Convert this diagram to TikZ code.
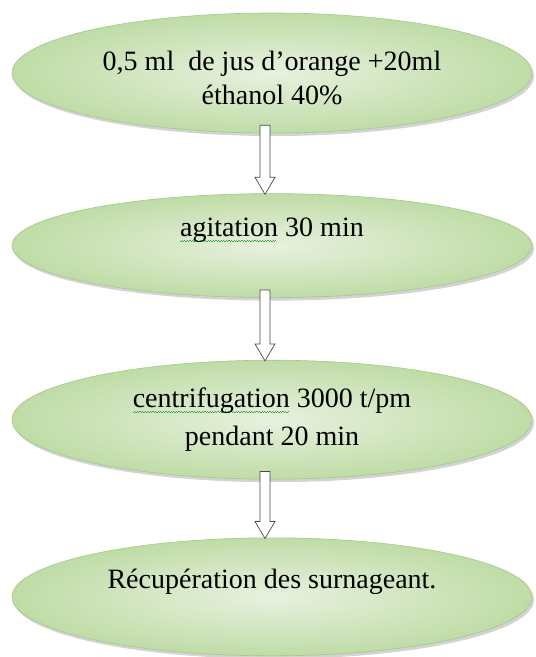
\documentclass[tikz,border=0pt]{standalone}
\usepackage{fontspec}
\setmainfont{Liberation Serif}
\usepackage{xcolor}
\usepackage{tikz}
\usetikzlibrary{positioning,calc,shapes.geometric,shadows}
\definecolor{cFillIn}{HTML}{E8F1DF}
\definecolor{cFillOut}{HTML}{BFDCA6}
\definecolor{cEdge}{HTML}{A3C98A}
\definecolor{cWave}{HTML}{3FA34D}
\definecolor{cArrow}{HTML}{4A4A4A}
\newsavebox\spellbox
\newcommand\spellmark[1]{\sbox\spellbox{#1}%
  \rlap{\raisebox{-5pt}{\color{cWave}\hbox to\wd\spellbox{\leaders\hbox to 2.6pt{\rule{1.3pt}{0.9pt}\rule[0.9pt]{1.3pt}{0.9pt}}\hfill}}}#1}
\tikzset{
  stepbox/.style={ellipse, draw=cEdge, line width=0.6pt, inner sep=0pt,
                  minimum width=520pt, inner color=cFillIn, outer color=cFillOut,
                  drop shadow={shadow xshift=2pt, shadow yshift=-3pt, opacity=0.35}},
  steptext/.style={align=center, text=black, inner sep=0pt,
                   font=\fontsize{28}{34}\selectfont},
  hollow/.style={draw=cArrow, fill=white, line width=0.7pt, line join=miter},
}

\begin{document}
\begin{tikzpicture}[node distance=60pt]
  \useasboundingbox (0,0) rectangle (536pt,-657pt);
  \node[stepbox, minimum height=120pt] (juice) at (272pt,-73pt) {};
  \node[stepbox, minimum height=104pt, below=of juice] (agit) {};
  \node[stepbox, minimum height=119pt, below=62pt of agit] (centri) {};
  \node[stepbox, minimum height=118pt, below=58pt of centri] (recup) {};
  % texts
  \node[steptext] (juiceT) at ([yshift=-5pt]juice.center) {0,5 ml \ de jus d’orange +20ml\\éthanol 40\%};
  \node[steptext] (agitT) at ([yshift=15pt]agit.center) {\spellmark{agitation} 30 min};
  \node[steptext, font=\fontsize{28}{38}\selectfont] (centriT) at (centri.center) {\spellmark{centrifugation} 3000 t/pm\\pendant 20 min};
  \node[steptext] (recupT) at ([yshift=15pt]recup.center) {Récupération des surnageant.};
  % block arrows
  \foreach \a/\b in {juice/agit, agit/centri, centri/recup}{
    \draw[hollow] let \p1=($(\a.south)+(-7pt,0)$), \p2=(\b.north) in
      (\x1-5pt,\y1+8pt) -- (\x1-5pt,\y2+16pt) -- (\x1-10pt,\y2+16pt) -- (\x1,\y2-1pt)
      -- (\x1+10pt,\y2+16pt) -- (\x1+5pt,\y2+16pt) -- (\x1+5pt,\y1+8pt) -- cycle;
  }
\end{tikzpicture}
\end{document}
